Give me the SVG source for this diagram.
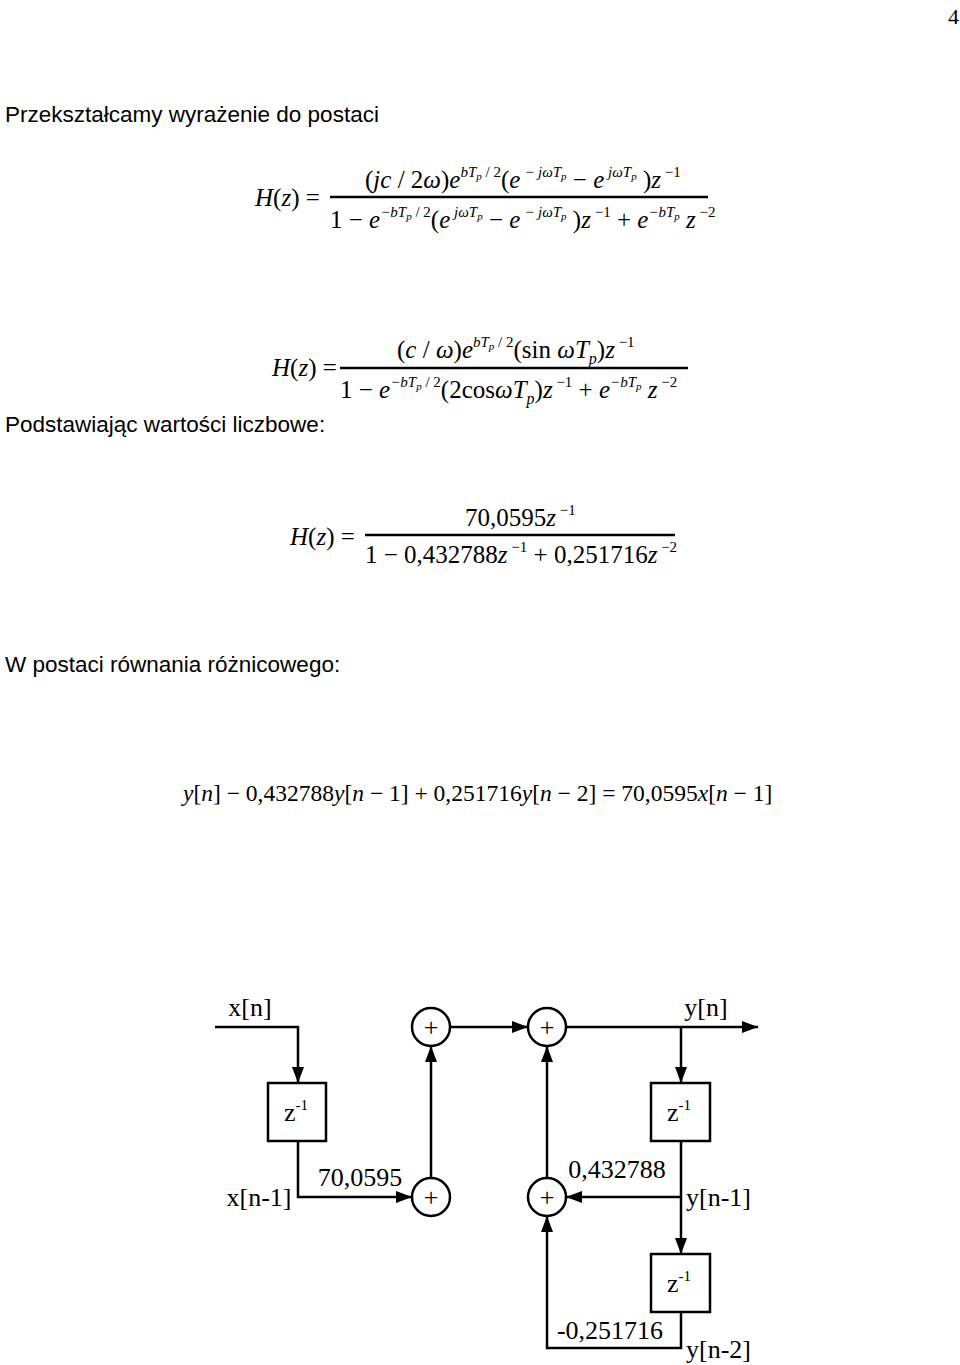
<svg xmlns="http://www.w3.org/2000/svg" width="960" height="1365" viewBox="0 0 960 1365">
<style>
.s{font-family:"Liberation Sans",Arial,sans-serif;font-size:22.5px;fill:#000}
.m{font-family:"Liberation Serif","Times New Roman",serif;font-size:25px;fill:#000}
.i{font-style:italic}
.sup{font-size:15px}
.sub{font-size:11px}
.l{font-family:"Liberation Serif","Times New Roman",serif;font-size:26px;fill:#000}
.ln{stroke:#000;stroke-width:2.5;fill:none}
.bx{stroke:#000;stroke-width:2.5;fill:#fff}
</style>
<defs>
<marker id="a" viewBox="0 0 16 12" refX="16" refY="6" markerWidth="16" markerHeight="12" markerUnits="userSpaceOnUse" orient="auto"><path d="M0,0L16,6L0,12z" fill="#000"/></marker>
</defs>
<text x="948" y="24" class="l" style="font-size:22px">4</text>
<text x="5" y="122" class="s">Przekształcamy wyrażenie do postaci</text>

<g id="f1">
<text x="255" y="206" class="m"><tspan class="i">H</tspan>(<tspan class="i">z</tspan>) =</text>
<line x1="330" y1="197" x2="708" y2="197" class="ln" stroke-width="1.2"/>
<text x="365" y="188" class="m">(<tspan class="i">jc</tspan> / 2<tspan class="i">ω</tspan>)<tspan class="i">e</tspan><tspan class="sup i" dy="-11">bT</tspan><tspan class="sub i" dy="3">p</tspan><tspan class="sup" dy="-3"> / 2</tspan><tspan dy="11">(</tspan><tspan class="i">e</tspan><tspan class="sup i" dy="-11"> − jωT</tspan><tspan class="sub i" dy="3">p</tspan><tspan dy="8">  − </tspan><tspan class="i">e</tspan><tspan class="sup i" dy="-11"> jωT</tspan><tspan class="sub i" dy="3">p</tspan><tspan dy="8"> )</tspan><tspan class="i">z</tspan><tspan class="sup" dy="-11"> −1</tspan></text>
<text x="330" y="228" class="m">1 − <tspan class="i">e</tspan><tspan class="sup i" dy="-11">−bT</tspan><tspan class="sub i" dy="3">p</tspan><tspan class="sup" dy="-3"> / 2</tspan><tspan dy="11">(</tspan><tspan class="i">e</tspan><tspan class="sup i" dy="-11"> jωT</tspan><tspan class="sub i" dy="3">p</tspan><tspan dy="8">  − </tspan><tspan class="i">e</tspan><tspan class="sup i" dy="-11"> − jωT</tspan><tspan class="sub i" dy="3">p</tspan><tspan dy="8"> )</tspan><tspan class="i">z</tspan><tspan class="sup" dy="-11"> −1</tspan><tspan dy="11"> + </tspan><tspan class="i">e</tspan><tspan class="sup i" dy="-11">−bT</tspan><tspan class="sub i" dy="3">p</tspan><tspan class="i" dy="8"> z</tspan><tspan class="sup" dy="-11"> −2</tspan></text>
</g>

<g id="f2">
<text x="272" y="376" class="m"><tspan class="i">H</tspan>(<tspan class="i">z</tspan>) =</text>
<line x1="340" y1="368" x2="688" y2="368" class="ln" stroke-width="1.2"/>
<text x="397" y="358" class="m">(<tspan class="i">c</tspan> / <tspan class="i">ω</tspan>)<tspan class="i">e</tspan><tspan class="sup i" dy="-11">bT</tspan><tspan class="sub i" dy="3">p</tspan><tspan class="sup" dy="-3"> / 2</tspan><tspan dy="11">(sin </tspan><tspan class="i">ωT</tspan><tspan class="sub i" dy="6" style="font-size:16px">p</tspan><tspan dy="-6">)</tspan><tspan class="i">z</tspan><tspan class="sup" dy="-11"> −1</tspan></text>
<text x="340" y="398" class="m">1 − <tspan class="i">e</tspan><tspan class="sup i" dy="-11">−bT</tspan><tspan class="sub i" dy="3">p</tspan><tspan class="sup" dy="-3"> / 2</tspan><tspan dy="11">(2cos</tspan><tspan class="i">ωT</tspan><tspan class="sub i" dy="6" style="font-size:16px">p</tspan><tspan dy="-6">)</tspan><tspan class="i">z</tspan><tspan class="sup" dy="-11"> −1</tspan><tspan dy="11"> + </tspan><tspan class="i">e</tspan><tspan class="sup i" dy="-11">−bT</tspan><tspan class="sub i" dy="3">p</tspan><tspan class="i" dy="8"> z</tspan><tspan class="sup" dy="-11"> −2</tspan></text>
</g>
<text x="5" y="432" class="s">Podstawiając wartości liczbowe:</text>

<g id="f3">
<text x="290" y="545" class="m"><tspan class="i">H</tspan>(<tspan class="i">z</tspan>) =</text>
<line x1="365" y1="535" x2="675" y2="535" class="ln" stroke-width="1.2"/>
<text x="465" y="526" class="m">70,0595<tspan class="i">z</tspan><tspan class="sup" dy="-11"> −1</tspan></text>
<text x="365" y="563" class="m">1 − 0,432788<tspan class="i">z</tspan><tspan class="sup" dy="-11"> −1</tspan><tspan dy="11"> + 0,251716</tspan><tspan class="i">z</tspan><tspan class="sup" dy="-11"> −2</tspan></text>
</g>
<text x="5" y="672" class="s">W postaci równania różnicowego:</text>
<text x="183" y="801" class="m" style="font-size:23.5px"><tspan class="i">y</tspan>[<tspan class="i">n</tspan>] − 0,432788<tspan class="i">y</tspan>[<tspan class="i">n</tspan> − 1] + 0,251716<tspan class="i">y</tspan>[<tspan class="i">n</tspan> − 2] = 70,0595<tspan class="i">x</tspan>[<tspan class="i">n</tspan> − 1]</text>

<g id="connectors">
<path d="M215,1027H298V1083" class="ln" marker-end="url(#a)"/>
<path d="M298,1141V1197H412" class="ln" marker-end="url(#a)"/>
<path d="M431,1178V1046" class="ln" marker-end="url(#a)"/>
<path d="M450,1027H528" class="ln" marker-end="url(#a)"/>
<path d="M566,1027H758" class="ln" marker-end="url(#a)"/>
<path d="M681,1027V1083" class="ln" marker-end="url(#a)"/>
<path d="M681,1141V1254" class="ln" marker-end="url(#a)"/>
<path d="M681,1197H566" class="ln" marker-end="url(#a)"/>
<path d="M547,1178V1046" class="ln" marker-end="url(#a)"/>
<path d="M681,1312V1348H547V1216" class="ln" marker-end="url(#a)"/>
</g>
<g id="d1"><rect x="268" y="1083" width="58" height="58" class="bx"/><text x="296" y="1121" class="l" text-anchor="middle">z<tspan style="font-size:15px" dy="-11">-1</tspan></text></g>
<g id="d2"><rect x="651" y="1083" width="59" height="58" class="bx"/><text x="679" y="1121" class="l" text-anchor="middle">z<tspan style="font-size:15px" dy="-11">-1</tspan></text></g>
<g id="d3"><rect x="651" y="1254" width="59" height="58" class="bx"/><text x="679" y="1292" class="l" text-anchor="middle">z<tspan style="font-size:15px" dy="-11">-1</tspan></text></g>
<g id="sA"><circle cx="431" cy="1197" r="19" class="bx"/><text x="431" y="1206" class="l" text-anchor="middle">+</text></g>
<g id="sB"><circle cx="431" cy="1027" r="19" class="bx"/><text x="431" y="1036" class="l" text-anchor="middle">+</text></g>
<g id="sC"><circle cx="547" cy="1027" r="19" class="bx"/><text x="547" y="1036" class="l" text-anchor="middle">+</text></g>
<g id="sD"><circle cx="547" cy="1197" r="19" class="bx"/><text x="547" y="1206" class="l" text-anchor="middle">+</text></g>
<text x="250" y="1016" class="l" text-anchor="middle">x[n]</text>
<text x="706" y="1016" class="l" text-anchor="middle">y[n]</text>
<text x="360" y="1186" class="l" text-anchor="middle">70,0595</text>
<text x="259" y="1206" class="l" text-anchor="middle">x[n-1]</text>
<text x="617" y="1178" class="l" text-anchor="middle">0,432788</text>
<text x="686" y="1206" class="l">y[n-1]</text>
<text x="610" y="1339" class="l" text-anchor="middle">-0,251716</text>
<text x="686" y="1358" class="l">y[n-2]</text>
</svg>
